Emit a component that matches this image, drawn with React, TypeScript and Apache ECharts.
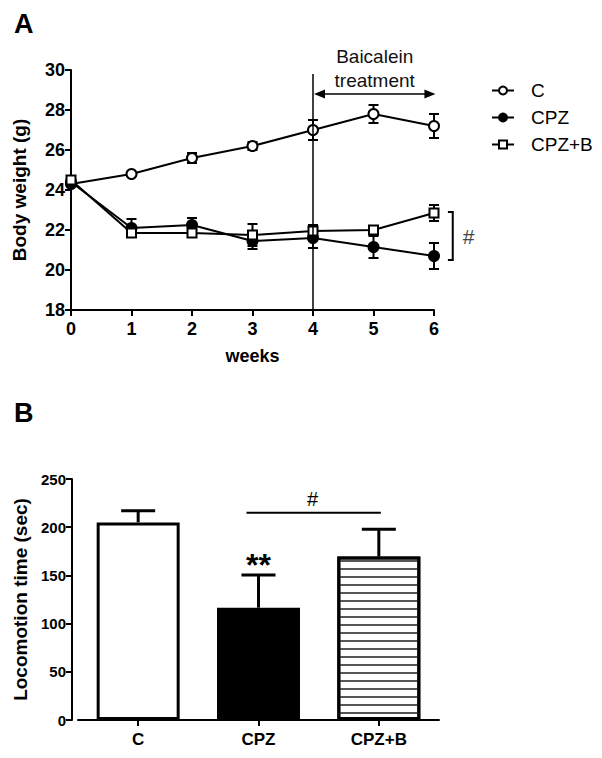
import React, { useEffect, useRef } from 'react';
import * as echarts from 'echarts';

// Panel A: body weight (g) by week
const weeks = [0, 1, 2, 3, 4, 5, 6];
const cMean = [24.3, 24.8, 25.6, 26.2, 27.0, 27.8, 27.2];
const cErr = [0.1, 0.1, 0.25, 0.2, 0.5, 0.45, 0.6];
const cpzMean = [24.4, 22.1, 22.25, 21.45, 21.6, 21.15, 20.7];
const cpzErr = [0.15, 0.45, 0.35, 0.4, 0.5, 0.55, 0.65];
const cpzbMean = [24.5, 21.85, 21.85, 21.75, 21.95, 22.0, 22.85];
const cpzbErr = [0.15, 0.2, 0.2, 0.55, 0.3, 0.2, 0.4];
const seriesNames = ['C', 'CPZ', 'CPZ+B'];
const weightTicks = { min: 18, max: 30, interval: 2 };

// Panel B: locomotion time (sec)
const groups = ['C', 'CPZ', 'CPZ+B'];
const locoMean = [205, 116.5, 169.5];
const locoSem = [12, 34, 28.5];
const locoTicks = { min: 0, max: 250, interval: 50 };

// Annotations
const treatStart = 4;
const treatEnd = 6;

const FONT = 'Arial, "Liberation Sans", sans-serif';

export default function App() {
  const ref = useRef<HTMLDivElement>(null);

  useEffect(() => {
    const chart = echarts.init(ref.current!, null, { renderer: 'svg' });

    const errData = (mean: number[], err: number[]) =>
      weeks.map((w, i) => [w, mean[i] - err[i], mean[i] + err[i]]);

    const renderErrA = (_p: any, api: any) => {
      const x = api.value(0);
      const lo = api.coord([x, api.value(1)]);
      const hi = api.coord([x, api.value(2)]);
      const hw = 5;
      const st = { stroke: '#000', lineWidth: 2 };
      return {
        type: 'group',
        children: [
          { type: 'line', shape: { x1: lo[0], y1: lo[1], x2: hi[0], y2: hi[1] }, style: st },
          { type: 'line', shape: { x1: lo[0] - hw, y1: lo[1], x2: lo[0] + hw, y2: lo[1] }, style: st },
          { type: 'line', shape: { x1: hi[0] - hw, y1: hi[1], x2: hi[0] + hw, y2: hi[1] }, style: st },
        ],
      };
    };

    const renderErrB = (_p: any, api: any) => {
      const x = api.value(0);
      const lo = api.coord([x, api.value(1)]);
      const hi = api.coord([x, api.value(2)]);
      const hw = 17;
      const st = { stroke: '#000', lineWidth: 3 };
      return {
        type: 'group',
        children: [
          { type: 'line', shape: { x1: lo[0], y1: lo[1], x2: hi[0], y2: hi[1] }, style: st },
          { type: 'line', shape: { x1: hi[0] - hw, y1: hi[1], x2: hi[0] + hw, y2: hi[1] }, style: st },
        ],
      };
    };

    const axisCommon = {
      axisLine: { show: true, lineStyle: { color: '#000', width: 2 } },
      axisTick: { show: true, inside: false, length: 6, lineStyle: { color: '#000', width: 2 } },
      splitLine: { show: false },
    };

    const lineSeries = (name: string, mean: number[], symbol: string, size: number) => ({
      type: 'line',
      name,
      xAxisIndex: 0,
      yAxisIndex: 0,
      data: weeks.map((w, i) => [w, mean[i]]),
      symbol,
      symbolSize: size,
      showAllSymbol: true,
      lineStyle: { color: '#000', width: 2 },
      itemStyle: { color: '#000', borderColor: '#000', borderWidth: 2 },
      z: 3,
    });

    chart.setOption({
      animation: false,
      backgroundColor: '#fff',
      textStyle: { fontFamily: FONT },
      grid: [
        { left: 71, top: 70, width: 363, height: 240 },
        { left: 78, top: 479, width: 361, height: 241 },
      ],
      xAxis: [
        {
          type: 'value',
          gridIndex: 0,
          min: 0,
          max: 6,
          interval: 1,
          ...axisCommon,
          axisLabel: { fontSize: 18, fontWeight: 'bold', color: '#000', margin: 10, fontFamily: FONT },
          name: 'weeks',
          nameLocation: 'middle',
          nameGap: 37,
          nameTextStyle: { fontSize: 18, fontWeight: 'bold', color: '#000', fontFamily: FONT },
        },
        {
          type: 'category',
          gridIndex: 1,
          data: groups,
          ...axisCommon,
          axisTick: { ...axisCommon.axisTick, alignWithLabel: true },
          axisLabel: { fontSize: 17, fontWeight: 'bold', color: '#000', margin: 11, fontFamily: FONT },
        },
      ],
      yAxis: [
        {
          type: 'value',
          gridIndex: 0,
          ...weightTicks,
          ...axisCommon,
          axisLabel: { fontSize: 18, fontWeight: 'bold', color: '#000', margin: 6, fontFamily: FONT },
          name: 'Body weight (g)',
          nameLocation: 'middle',
          nameRotate: 90,
          nameGap: 42,
          nameTextStyle: { fontSize: 19, fontWeight: 'bold', color: '#000', fontFamily: FONT },
        },
        {
          type: 'value',
          gridIndex: 1,
          offset: 6,
          ...locoTicks,
          ...axisCommon,
          axisLabel: { fontSize: 15, fontWeight: 'bold', color: '#000', margin: 6, fontFamily: FONT },
          name: 'Locomotion time (sec)',
          nameLocation: 'middle',
          nameRotate: 90,
          nameGap: 40,
          nameTextStyle: { fontSize: 19, fontWeight: 'bold', color: '#000', fontFamily: FONT },
        },
      ],
      legend: {
        data: seriesNames,
        orient: 'vertical',
        left: 486,
        top: 76,
        itemWidth: 22,
        itemHeight: 10,
        itemGap: 8,
        selectedMode: false,
        textStyle: { fontSize: 19, color: '#000', fontFamily: FONT, padding: [0, 0, 0, 12] },
      },
      series: [
        { type: 'custom', xAxisIndex: 0, yAxisIndex: 0, renderItem: renderErrA, data: errData(cMean, cErr), encode: { x: 0, y: [1, 2] }, z: 2, silent: true },
        { type: 'custom', xAxisIndex: 0, yAxisIndex: 0, renderItem: renderErrA, data: errData(cpzMean, cpzErr), encode: { x: 0, y: [1, 2] }, z: 2, silent: true },
        { type: 'custom', xAxisIndex: 0, yAxisIndex: 0, renderItem: renderErrA, data: errData(cpzbMean, cpzbErr), encode: { x: 0, y: [1, 2] }, z: 2, silent: true },
        lineSeries('C', cMean, 'emptyCircle', 10),
        lineSeries('CPZ', cpzMean, 'circle', 10),
        lineSeries('CPZ+B', cpzbMean, 'emptyRect', 9),
        {
          type: 'bar',
          xAxisIndex: 1,
          yAxisIndex: 1,
          barWidth: 83,
          data: [
            { value: locoMean[0], itemStyle: { color: '#fff', borderColor: '#000', borderWidth: 3 } },
            { value: locoMean[1], itemStyle: { color: '#000', borderColor: '#000', borderWidth: 3 } },
            {
              value: locoMean[2],
              itemStyle: {
                color: '#fff',
                borderColor: '#000',
                borderWidth: 3,
                decal: {
                  symbol: 'rect',
                  symbolSize: 1,
                  dashArrayX: [1, 0],
                  dashArrayY: [1.6, 5.6],
                  rotation: 0,
                  color: '#555',
                  backgroundColor: '#fff',
                },
              },
            },
          ],
          z: 2,
        },
        {
          type: 'custom',
          xAxisIndex: 1,
          yAxisIndex: 1,
          renderItem: renderErrB,
          data: groups.map((_, i) => [i, locoMean[i], locoMean[i] + locoSem[i]]),
          encode: { x: 0, y: [1, 2] },
          z: 1,
          silent: true,
        },
      ],
    });

    const pA = (v: number[]) => chart.convertToPixel({ gridIndex: 0 }, v) as number[];
    const pB = (v: number[]) => chart.convertToPixel({ gridIndex: 1 }, v) as number[];

    const vTop = pA([treatStart, 29.8]);
    const vBot = pA([treatStart, 18]);
    const aL = pA([treatStart, 28.8]);
    const aR = pA([treatEnd + 0.04, 28.8]);
    const midX = (aL[0] + aR[0]) / 2;
    const brTop = pA([6.31, 22.9]);
    const brBot = pA([6.31, 20.5]);
    const brTick = pA([6.23, 20.5]);
    const hashA = pA([6.57, 21.7]);

    const cpzC = pB([1, 0]);
    const cpzbC = pB([2, 0]);
    const sigY = pB([0, 215])[1];
    const hashBY = pB([0, 229])[1];
    const cpzErrTop = pB([1, locoMean[1] + locoSem[1]]);

    const blk = { stroke: '#000', lineWidth: 1.5 };
    chart.setOption({
      graphic: [
        { type: 'text', left: 14, top: 10, style: { text: 'A', fontSize: 27, fontWeight: 'bold', fill: '#000', fontFamily: FONT } },
        { type: 'text', left: 14, top: 399, style: { text: 'B', fontSize: 27, fontWeight: 'bold', fill: '#000', fontFamily: FONT } },
        { type: 'line', shape: { x1: vTop[0], y1: vTop[1], x2: vBot[0], y2: vBot[1] }, style: blk, z: 5 },
        { type: 'line', shape: { x1: aL[0] + 4, y1: aL[1], x2: aR[0] - 4, y2: aR[1] }, style: blk, z: 5 },
        { type: 'polygon', shape: { points: [[aL[0] + 1, aL[1]], [aL[0] + 12, aL[1] - 4.5], [aL[0] + 12, aL[1] + 4.5]] }, style: { fill: '#000' }, z: 5 },
        { type: 'polygon', shape: { points: [[aR[0] - 1, aR[1]], [aR[0] - 12, aR[1] - 4.5], [aR[0] - 12, aR[1] + 4.5]] }, style: { fill: '#000' }, z: 5 },
        { type: 'text', x: midX, y: aL[1] - 38, style: { text: 'Baicalein', fontSize: 19, fill: '#111', fontFamily: FONT, align: 'center', verticalAlign: 'middle' }, z: 5 },
        { type: 'text', x: midX, y: aL[1] - 14, style: { text: 'treatment', fontSize: 19, fill: '#111', fontFamily: FONT, align: 'center', verticalAlign: 'middle' }, z: 5 },
        {
          type: 'polyline',
          shape: { points: [[brTick[0], brTop[1]], [brTop[0], brTop[1]], [brBot[0], brBot[1]], [brTick[0], brBot[1]]] },
          style: { stroke: '#000', lineWidth: 2, fill: 'none' },
          z: 5,
        },
        { type: 'text', x: hashA[0], y: hashA[1], style: { text: '#', fontSize: 21, fill: '#444', fontFamily: FONT, align: 'center', verticalAlign: 'middle' }, z: 5 },
        { type: 'line', shape: { x1: cpzC[0] - 12, y1: sigY, x2: cpzbC[0] + 2, y2: sigY }, style: { stroke: '#000', lineWidth: 2 }, z: 5 },
        { type: 'text', x: (cpzC[0] + cpzbC[0]) / 2 - 6, y: hashBY, style: { text: '#', fontSize: 20, fill: '#000', fontFamily: FONT, align: 'center', verticalAlign: 'middle' }, z: 5 },
        { type: 'text', x: cpzC[0], y: cpzErrTop[1] + 6, style: { text: '**', fontSize: 32, fontWeight: 'bold', fill: '#000', fontFamily: FONT, align: 'center', verticalAlign: 'bottom' }, z: 5 },
      ],
    });

    return () => chart.dispose();
  }, []);

  return (
    <div
      ref={ref}
      style={{ position: 'absolute', left: 0, top: 0, width: 602, height: 758, background: '#fff' }}
    />
  );
}
